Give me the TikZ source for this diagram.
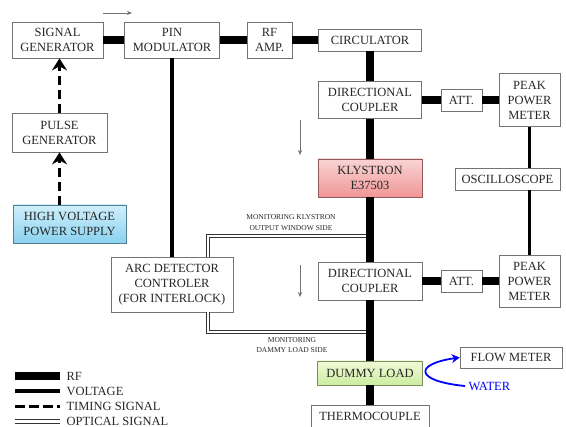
\documentclass[tikz,border=0pt]{standalone}
\usepackage{fontspec}
\setmainfont{Liberation Serif}
\usetikzlibrary{arrows.meta}
\definecolor{hvtop}{RGB}{208,239,251}
\definecolor{hvbot}{RGB}{138,210,240}
\definecolor{klytop}{RGB}{250,212,212}
\definecolor{klybot}{RGB}{240,150,150}
\definecolor{dumtop}{RGB}{240,250,215}
\definecolor{dumbot}{RGB}{205,236,160}

\begin{document}
\begin{tikzpicture}[x=1pt, y=-1pt,
    box/.style={draw=black!55, line width=0.7pt, fill=white, text=black!85, align=center, inner sep=1pt,
      font=\fontsize{12.5}{15}\selectfont},
    rf/.style={line width=7.5pt, black},
    volt/.style={line width=3.4pt, black},
    timing/.style={line width=3.8pt, black, dash pattern=on 9pt off 5pt},
    optic/.style={double=white, double distance=2.4pt, line width=0.9pt, black!80},
    flow/.style={-{Stealth[length=5pt,width=4pt]}, black!55, line width=0.5pt},
    note/.style={align=center, text=black!85, font=\fontsize{7.5}{10.5}\selectfont}]
  \useasboundingbox (0,0) rectangle (566,427);
  % boxes
  \node[box, minimum width=91pt,  minimum height=36pt] (sg)     at (57.5,40)  {SIGNAL\\GENERATOR};
  \node[box, minimum width=95pt,  minimum height=36pt] (pin)    at (172,40)   {PIN\\MODULATOR};
  \node[box, minimum width=45pt,  minimum height=36pt] (rfamp)  at (269.5,40) {RF\\AMP.};
  \node[box, minimum width=103pt, minimum height=22pt] (circ)   at (370,40)   {CIRCULATOR};
  \node[box, minimum width=103pt, minimum height=37pt] (dc1)    at (370,100)  {DIRECTIONAL\\COUPLER};
  \node[box, minimum width=41pt,  minimum height=22pt] (att1)   at (461.5,100) {ATT.};
  \node[box, minimum width=61pt,  minimum height=53pt] (ppm1)   at (529.5,100) {PEAK\\POWER\\METER};
  \node[box, minimum width=95pt,  minimum height=39pt] (pg)     at (59.5,132.5) {PULSE\\GENERATOR};
  \node[box, minimum width=113pt, minimum height=38pt, draw=hvbot!60!black, top color=hvtop, bottom color=hvbot]
    (hv) at (69.5,224) {HIGH VOLTAGE\\POWER SUPPLY};
  \node[box, minimum width=104pt, minimum height=38pt, draw=klybot!60!black, top color=klytop, bottom color=klybot]
    (kly) at (370,178) {KLYSTRON\\E37503};
  \node[box, minimum width=105pt, minimum height=22pt] (osc)    at (507.5,179) {OSCILLOSCOPE};
  \node[box, minimum width=122pt, minimum height=55pt] (arc)    at (172,284.5) {ARC DETECTOR\\CONTROLER\\(FOR INTERLOCK)};
  \node[box, minimum width=104pt, minimum height=38pt] (dc2)    at (370,281)  {DIRECTIONAL\\COUPLER};
  \node[box, minimum width=41pt,  minimum height=22pt] (att2)   at (461.5,281) {ATT.};
  \node[box, minimum width=61pt,  minimum height=52pt] (ppm2)   at (529.5,281) {PEAK\\POWER\\METER};
  \node[box, minimum width=105pt, minimum height=24pt, draw=dumbot!60!black, top color=dumtop, bottom color=dumbot]
    (dummy) at (370,373) {DUMMY LOAD};
  \node[box, minimum width=118pt, minimum height=22pt] (thermo) at (370,416)  {THERMOCOUPLE};
  \node[box, minimum width=102pt, minimum height=21pt] (fm)     at (511,357.5) {FLOW METER};
  \node[note] (wlab) at (291,222.5) {MONITORING KLYSTRON\\OUTPUT WINDOW SIDE};
  \node[note] (dlab) at (292,345) {MONITORING\\DAMMY LOAD SIDE};
  \node[text=blue, anchor=west, font=\fontsize{12.5}{15}\selectfont] (water) at (465,386) {WATER};
  \coordinate (win) at (370,236);
  \coordinate (dmy) at (370,332);
  % optical signal
  \draw[optic] ([xshift=36pt]arc.north) |- (win);
  \draw[optic] ([xshift=36pt]arc.south) |- (dmy);
  % rf chain
  \path[rf]
    (sg) edge (pin)
    (pin) edge (rfamp)
    (rfamp) edge (circ)
    (circ) edge (dc1)
    (dc1) edge (kly) edge (att1)
    (att1) edge (ppm1)
    (kly) edge (dc2)
    (dc2) edge (dummy) edge (att2)
    (att2) edge (ppm2)
    (dummy) edge (thermo);
  % voltage
  \draw[volt] (pin) -- (arc);
  \draw[volt] (ppm1.south) -- (ppm1.south |- osc.north);
  \draw[volt] (ppm2.north |- osc.south) -- (ppm2.north);
  % timing
  \draw[timing, -{Stealth[length=12pt,width=15pt,inset=4pt]}] (pg.north) -- (pg.north |- sg.south);
  \draw[timing, -{Stealth[length=12pt,width=15pt,inset=4pt]}] (pg.south |- hv.north) -- (pg.south);
  % water
  \draw[blue, line width=1.8pt, -{Stealth[length=8pt,width=9pt]}]
    (water.west) .. controls (414,381) and (414,364) .. (fm.west);
  % direction arrows
  \coordinate (a1) at (103,13);
  \coordinate (b1) at (300,120);
  \coordinate (b2) at (300,265);
  \draw[flow] (a1) -- ++(29,0);
  \draw[flow] (b1) -- ++(0,35);
  \draw[flow] (b2) -- ++(0,32);
  % legend
  \begin{scope}[every node/.style={anchor=west, text=black!85, font=\fontsize{12.5}{15}\selectfont}]
    \node (lrf) at (63,376) {RF};
    \node (lvo) at (63,391) {VOLTAGE};
    \node (lti) at (63,406.5) {TIMING SIGNAL};
    \node (lop) at (63,421.5) {OPTICAL SIGNAL};
  \end{scope}
  \draw[rf] (lrf.west) ++(-48pt,0) -- ++(45pt,0);
  \draw[volt] (lvo.west) ++(-48pt,0) -- ++(45pt,0);
  \draw[timing, dash pattern=on 10pt off 4pt] (lti.west) ++(-48pt,0) -- ++(45pt,0);
  \draw[optic] (lop.west) ++(-48pt,0) -- ++(45pt,0);
\end{tikzpicture}
\end{document}
